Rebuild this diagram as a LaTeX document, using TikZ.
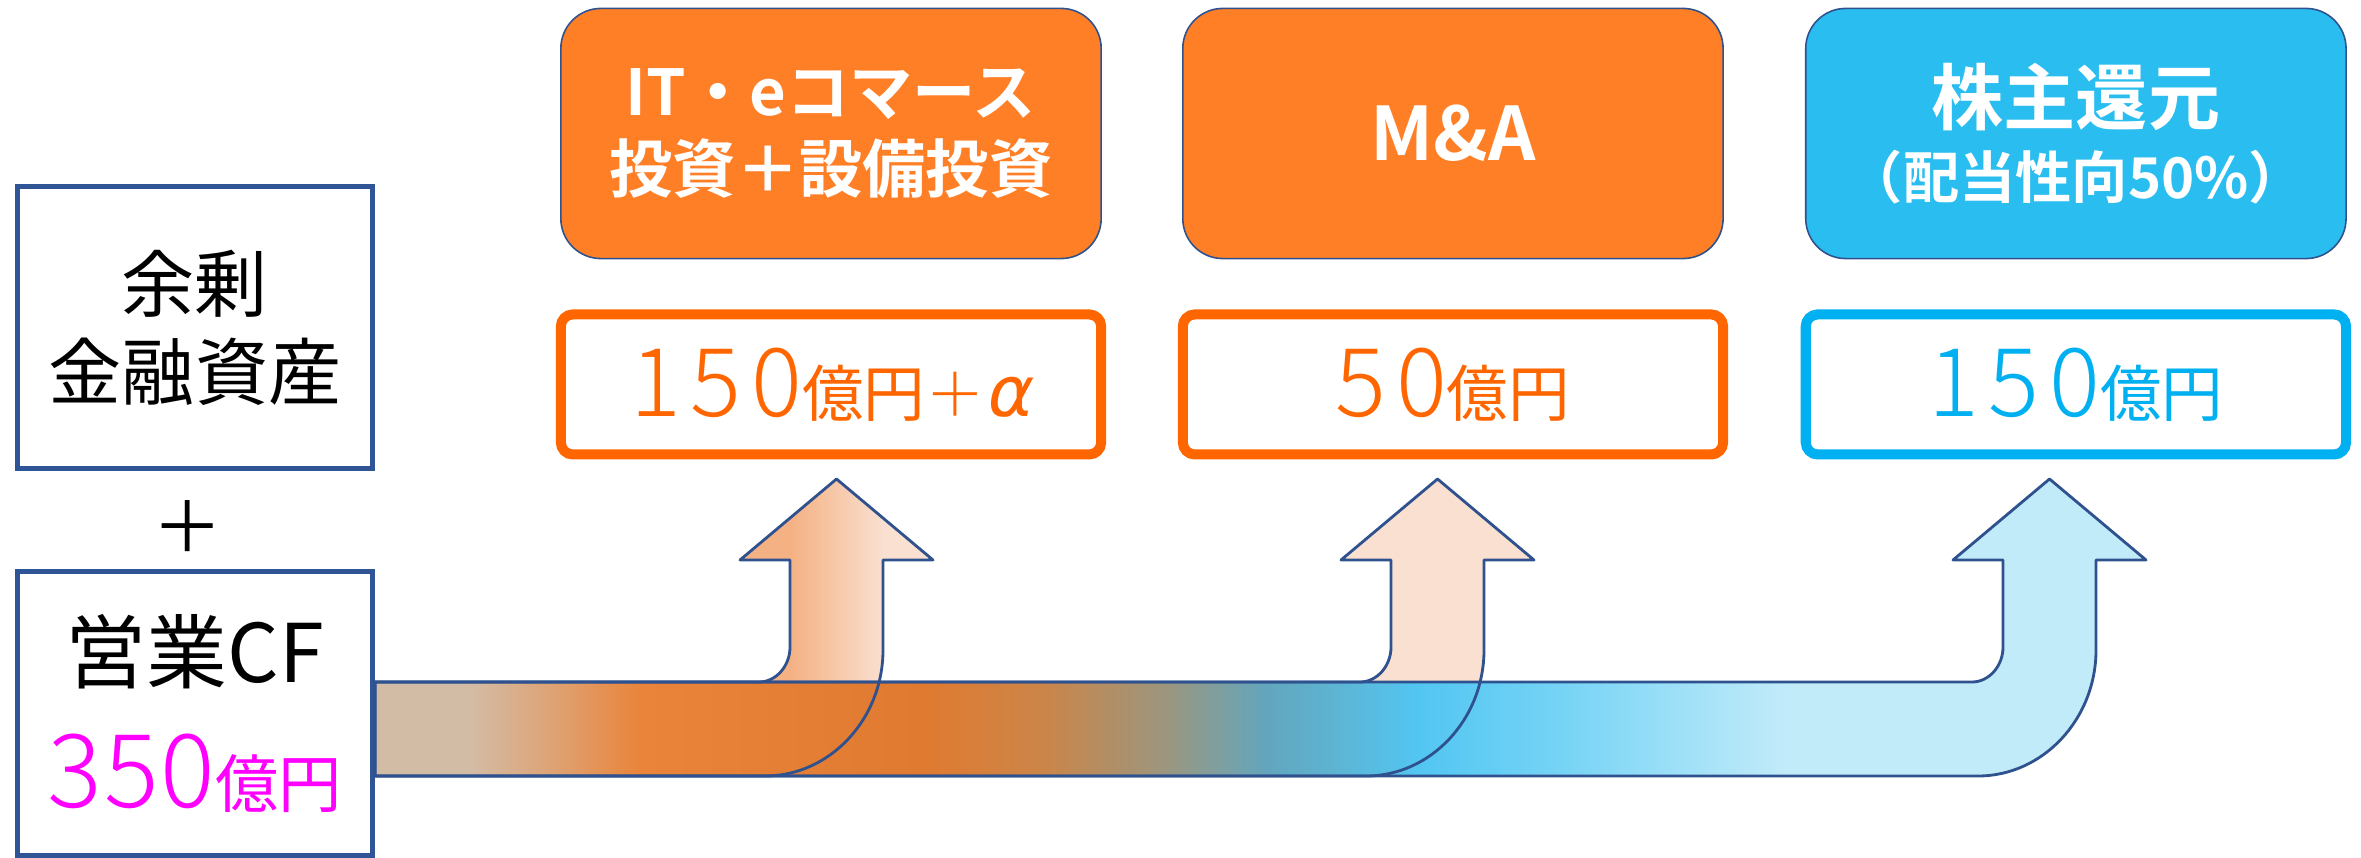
\documentclass[tikz,border=0pt]{standalone}
\usepackage{xcolor}
\usepackage{fontspec}
\setmainfont{Noto Sans CJK JP}[BoldFont={Noto Sans CJK JP Bold}]
\newfontfamily\thinfont{Noto Sans CJK JP Light}[LetterSpace=10]
\newfontfamily\tallfont{Noto Sans CJK JP Light}[LetterSpace=2]
\newfontfamily\alphafont{DejaVu Sans}[FakeSlant=0.2]
\usepackage{tikz}
\usetikzlibrary{positioning}

\definecolor{boxline}{HTML}{2F5597}
\definecolor{arrowline}{HTML}{2F528F}
\definecolor{useorange}{HTML}{FF7F27}
\definecolor{useblue}{HTML}{2ABDF0}
\definecolor{amtorange}{HTML}{FF6600}
\definecolor{amtblue}{HTML}{00B0F0}
\definecolor{cfpink}{HTML}{FF00FF}
\definecolor{peachA}{HTML}{F4B183}
\definecolor{peachB}{HTML}{F9E0D0}
\definecolor{skyB}{HTML}{C2EBF9}
\definecolor{bandA}{HTML}{D3BCA5}
\definecolor{bandB}{HTML}{DFA070}
\definecolor{bandC}{HTML}{E9843A}
\definecolor{bandD}{HTML}{E07A30}
\definecolor{bandE}{HTML}{CC8548}
\definecolor{bandF}{HTML}{9C967E}
\definecolor{bandG}{HTML}{62A6BE}
\definecolor{bandH}{HTML}{5DB5D4}
\definecolor{bandI}{HTML}{52C6F2}
\definecolor{bandJ}{HTML}{75D3F5}
\definecolor{bandK}{HTML}{A5E2F8}

\pgfdeclarehorizontalshading{bandshade}{100bp}{
  color(0bp)=(bandA); color(25bp)=(bandA); color(27.7bp)=(bandA);
  color(30.2bp)=(bandB); color(32.5bp)=(bandC); color(40.5bp)=(bandD);
  color(43.8bp)=(bandE); color(47.3bp)=(bandF); color(50.2bp)=(bandG);
  color(52.2bp)=(bandH); color(54.5bp)=(bandI); color(58.4bp)=(bandJ);
  color(62.4bp)=(bandK); color(64.9bp)=(skyB); color(75bp)=(skyB);
  color(100bp)=(skyB)}

\newcommand{\bentup}[1]{(flowtop) -- ({#1-31},682)
  .. controls ({#1-14},682) and (#1,666) .. (#1,647) -- (#1,560)
  -- ({#1-50},560) -- ({#1+46.5},479) -- ({#1+143},560) -- ({#1+93},560)
  -- ({#1+93},650) .. controls ({#1+93},719) and ({#1+40},776) .. ({#1-25},776)
  -- (flowbot) -- cycle}

\begin{document}
\begin{tikzpicture}[x=0.01cm, y=-0.01cm,
    srcbox/.style={draw=boxline, line width=1.4pt, minimum width=3.55cm,
                   minimum height=2.82cm, align=center, inner sep=0pt},
    usebox/.style={draw=arrowline, line width=0.45pt, rounded corners=0.4cm,
                   minimum width=5.4cm, minimum height=2.5cm, align=center,
                   text=white, inner sep=0pt},
    amtbox/.style={draw, line width=2.85pt, rounded corners=0.12cm, fill=white,
                   minimum width=5.4cm, minimum height=1.4cm, inner sep=0pt},
    flowline/.style={draw=arrowline, line width=0.8pt, line join=round}
  ]
    \useasboundingbox (0,0) rectangle (2361,858);

    \node[srcbox, font=\fontsize{20.8}{25}\selectfont] (surplus) at (195,327.5)
      {余剰\\金融資産};
    \node[font=\fontsize{20}{20}\selectfont] (plus) at (188,527) {＋};
    \node[srcbox, minimum height=2.84cm, font=\fontsize{23}{35.5}\selectfont] (opcf) at (195,713.5)
      {営業CF\\
       {\color{cfpink}\tallfont\fontsize{29}{35.5}\selectfont 350}{\color{cfpink}\fontsize{18}{35.5}\selectfont 億円}};

    \coordinate (flowtop) at (opcf.east |- 0,682);
    \coordinate (flowbot) at (opcf.east |- 0,776);

    \node[usebox, fill=useorange, font=\bfseries\fontsize{18}{22}\selectfont] (invest) at (831,133.5)
      {IT・eコマース\\投資＋設備投資};
    \node[usebox, fill=useorange, right=8mm of invest, font=\bfseries\fontsize{21}{24}\selectfont] (manda)
      {M\&A};
    \node[usebox, fill=useblue, right=8.1mm of manda, font=\bfseries\fontsize{20.5}{21}\selectfont] (payout)
      {株主還元\\{\fontsize{16}{21}\selectfont （配当性向50\%）}};

    \node[amtbox, draw=amtorange, text=amtorange, below=5mm of invest] (investamt)
      {{\fontsize{27}{30}\thinfont\selectfont 150}{\fontsize{17.5}{30}\selectfont 億円}{\thinfont\fontsize{17}{30}\selectfont ＋}{\alphafont\fontsize{20}{30}\selectfont α}};
    \node[amtbox, draw=amtorange, text=amtorange, below=5mm of manda] (mandaamt)
      {{\fontsize{27}{30}\thinfont\selectfont 50}{\fontsize{17.5}{30}\selectfont 億円}};
    \node[amtbox, draw=amtblue, text=amtblue, below=5mm of payout] (payoutamt)
      {{\fontsize{27}{30}\thinfont\selectfont 150}{\fontsize{17.5}{30}\selectfont 億円}};

    \fill[shading=bandshade] \bentup{2003};
    \begin{scope}
      \clip \bentup{1391};
      \fill[peachB] (1330,470) rectangle (1540,682);
    \end{scope}
    \begin{scope}
      \clip \bentup{790};
      \fill[left color=peachA, right color=peachB] (790,470) rectangle (883,682);
      \fill[peachA] (730,470) rectangle (790,682);
      \fill[peachB] (883,470) rectangle (940,682);
    \end{scope}

    \path[flowline] \bentup{790};
    \path[flowline] \bentup{1391};
    \path[flowline] \bentup{2003};
  \end{tikzpicture}
\end{document}
